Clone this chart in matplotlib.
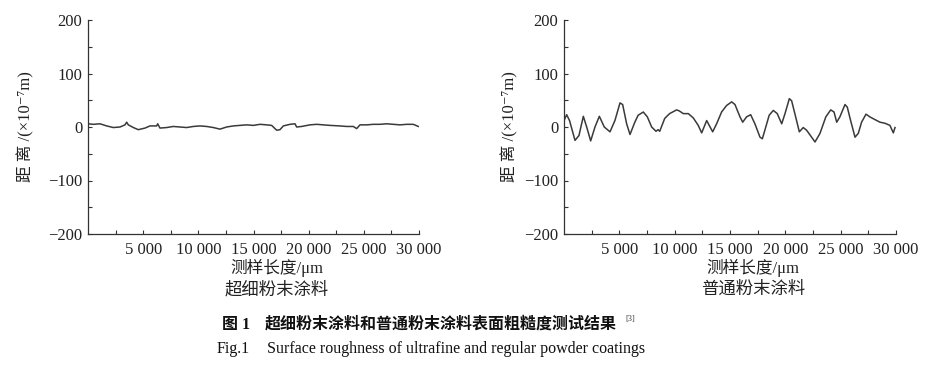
import matplotlib
matplotlib.use("Agg")
import matplotlib.pyplot as plt
from matplotlib.ticker import FixedLocator, FuncFormatter

plt.rcParams['font.family'] = ['Liberation Serif', 'Noto Sans CJK SC', 'DejaVu Serif']
plt.rcParams['axes.unicode_minus'] = True

# 超细粉末涂料 (ultrafine) profile
x_fine = [0, 483, 1088, 1692, 2296, 2900, 3353, 3504, 3655, 4108, 4561, 5166,
          5619, 6223, 6314, 6525, 7130, 7734, 8338, 8942, 9546, 10150, 10755,
          11359, 11963, 12567, 13171, 13776, 14380, 14984, 15588, 16193, 16646,
          17099, 17401, 17703, 18307, 18760, 18911, 19364, 20119, 20724, 21328,
          21932, 22838, 23443, 24047, 24349, 24651, 25255, 25859, 26463, 27068,
          27672, 28276, 28880, 29484, 29937]
y_fine = [6, 5, 6, 2, -1, 0, 4, 9, 4, -1, -5, -2,
          2, 2, 6, -2, -1, 1, 0, -1, 1, 2, 1,
          -1, -4, 0, 2, 3, 4, 3, 5, 4, 3,
          -6, -5, 2, 5, 6, 0, 1, 4, 5, 4,
          3, 2, 1, 1, -3, 4, 4, 5, 5, 6,
          5, 4, 5, 5, 1]

# 普通粉末涂料 (regular) profile
x_reg = [0, 240, 500, 994, 1350, 1747, 2050, 2410, 2800, 3193, 3640, 4157,
         4600, 5060, 5300, 5660, 5964, 6400, 6700, 7168, 7530, 7920, 8313,
         8500, 8650, 9100, 9540, 10180, 10420, 10780, 11235, 11680, 12130,
         12440, 12892, 13434, 13790, 14240, 14680, 15150, 15450, 15900, 16145,
         16500, 16868, 17250, 17710, 17922, 18150, 18540, 18913, 19270, 19672,
         19970, 20362, 20570, 20860, 21265, 21620, 21920, 22270, 22680, 23130,
         23660, 24100, 24400, 24642, 24930, 25392, 25600, 25900, 26296, 26590,
         26890, 27290, 27630, 28080, 28554, 29000, 29450, 29759, 29910]
y_reg = [12, 23, 12, -25, -16, 20, 0, -26, 0, 20, 0, -9,
         12, 45, 42, 6, -14, 9, 22, 28, 19, 0, -8,
         -5, -8, 16, 25, 32, 30, 25, 25, 17, 3,
         -11, 12, -9, 6, 28, 40, 47, 42, 19, 9,
         19, 23, 6, -19, -22, -6, 22, 31, 25, 6,
         25, 53, 49, 25, -9, -1, -6, -16, -28, -12,
         19, 32, 28, 9, 19, 42, 37, 12, -19, -12,
         9, 24, 19, 14, 9, 7, 3, -11, -1]

x_ticks = [5000, 10000, 15000, 20000, 25000, 30000]
x_minor = [2500, 7500, 12500, 17500, 22500, 27500]
y_ticks = [-200, -100, 0, 100, 200]
y_minor = [-150, -50, 50, 150]

subtitles = ['超细粉末涂料', '普通粉末涂料']
xlabel = '测样长度/μm'
ylabel = '距 离 /(×10⁻⁷m)'

fig = plt.figure(figsize=(9.28, 3.65), dpi=100)
W, H = 928, 365


def fx(px):
    return px / W


def fy(py):
    return 1 - py / H


panels = [
    (x_fine, y_fine, 88, 419, 277, 26),
    (x_reg, y_reg, 564, 896, 753, 510),
]

for i, (xs, ys, left, right, cx, ylx) in enumerate(panels):
    ax = fig.add_axes([fx(left), fy(234), (right - left) / W, (234 - 20) / H])
    ax.plot(xs, ys, color='#3a3a3a', lw=1.1)
    ax.set_xlim(0, 30000)
    ax.set_ylim(-200, 200)
    ax.spines['top'].set_visible(False)
    ax.spines['right'].set_visible(False)
    for s in ('left', 'bottom'):
        ax.spines[s].set_color('#333333')
        ax.spines[s].set_linewidth(0.9)
    ax.xaxis.set_major_locator(FixedLocator(x_ticks))
    ax.xaxis.set_minor_locator(FixedLocator(x_minor))
    ax.yaxis.set_major_locator(FixedLocator(y_ticks))
    ax.yaxis.set_minor_locator(FixedLocator(y_minor))
    ax.xaxis.set_major_formatter(FuncFormatter(lambda v, p: f'{int(v):,}'.replace(',', ' ')))
    ax.yaxis.set_major_formatter(FuncFormatter(lambda v, p: f'{int(v)}'.replace('-', '\u2212')))
    ax.tick_params(which='both', direction='in', length=3, width=0.8, colors='#333333',
                   labelsize=12, labelcolor='#222222')
    ax.tick_params(axis='x', pad=6)
    ax.tick_params(axis='y', pad=4)
    fig.text(fx(cx), fy(268), xlabel, ha='center', va='center', fontsize=12, color='#222222')
    fig.text(fx(cx), fy(290), subtitles[i], ha='center', va='center', fontsize=12.5, color='#222222')
    fig.text(fx(ylx), fy(127), ylabel, ha='center', va='center', rotation=90,
             fontsize=12, color='#222222')

fig.text(fx(222), fy(325), '图 1', ha='left', va='center', fontsize=11.5,
         fontweight='bold', color='#111111')
fig.text(fx(265), fy(325), '超细粉末涂料和普通粉末涂料表面粗糙度测试结果', ha='left',
         va='center', fontsize=11.5, fontweight='bold', color='#111111')
fig.text(fx(625), fy(319), '[3]', ha='left', va='center', fontsize=6, color='#333333')
fig.text(fx(217), fy(349), 'Fig.1', ha='left', va='center', fontsize=11.5, color='#111111')
fig.text(fx(267), fy(349), 'Surface roughness of ultrafine and regular powder coatings',
         ha='left', va='center', fontsize=11.5, color='#111111')

fig.savefig('out.png', dpi=100, facecolor='white')
